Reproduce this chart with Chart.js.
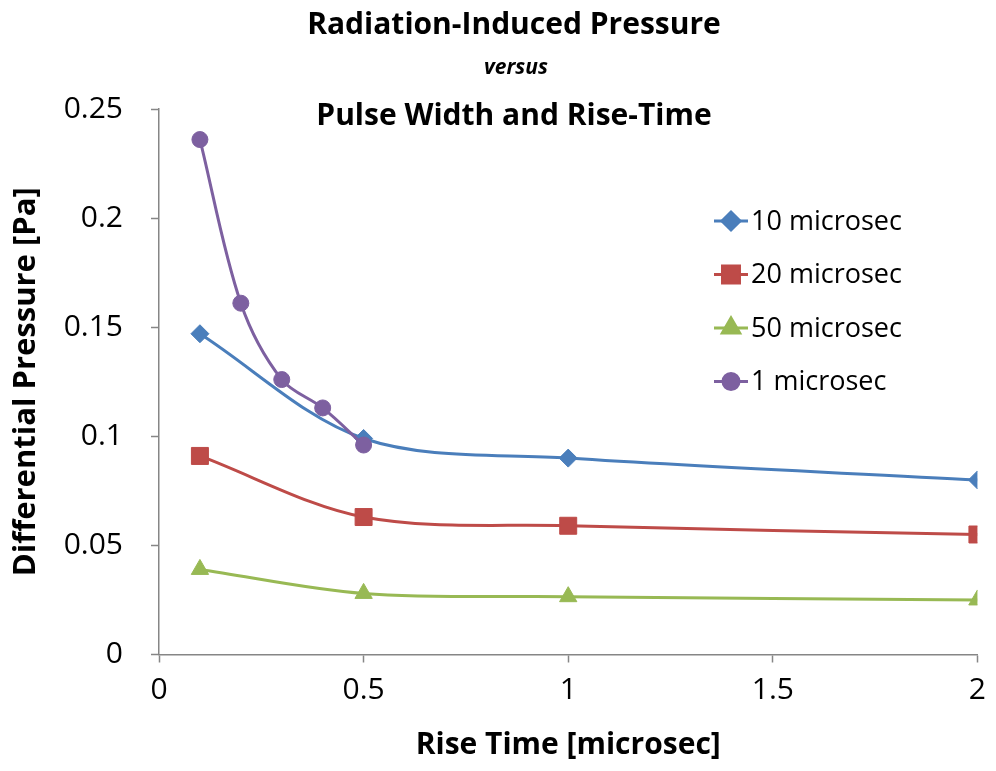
<!DOCTYPE html>
<html>
<head>
<meta charset="utf-8">
<script src="https://cdn.jsdelivr.net/npm/chart.js@4.4.1/dist/chart.umd.min.js"></script>
<style>
  html, body { margin: 0; padding: 0; background: #fff; }
  #wrap { width: 996px; height: 771px; position: relative; }
</style>
</head>
<body>
<div id="wrap"><canvas id="chartPressure" width="996" height="771"></canvas></div>
<script>
// 데이터 (x: rise time, y: differential pressure)
const riseTimes = [0.1, 0.5, 1, 2];
const riseTimesShort = [0.1, 0.2, 0.3, 0.4, 0.5];
const pressure10 = [0.147, 0.099, 0.090, 0.080];
const pressure20 = [0.091, 0.063, 0.059, 0.055];
const pressure50 = [0.039, 0.028, 0.0265, 0.025];
const pressure1 = [0.236, 0.161, 0.126, 0.113, 0.096];
const seriesLabels = ['10 microsec', '20 microsec', '50 microsec', '1 microsec'];
const xTicks = [0, 0.5, 1, 1.5, 2];
const yTicks = [0, 0.05, 0.1, 0.15, 0.2, 0.25];
const titleLines = ['Radiation-Induced Pressure', 'versus', 'Pulse Width and Rise-Time'];

const FONT = '"Open Sans", "DejaVu Sans", sans-serif';
const AXIS_GREY = '#868686';

function toPoints(xs, ys) {
    return xs.map(function(x, i){ return {x: x, y: ys[i]}; });
}

function lineSet(label, xs, ys, color, style, radius, order) {
    return {
        label: label,
        data: toPoints(xs, ys),
        borderColor: color,
        backgroundColor: color,
        borderWidth: 3,
        pointStyle: style,
        pointRadius: radius,
        pointHoverRadius: radius,
        pointBorderWidth: 1,
        pointBorderColor: color,
        pointBackgroundColor: color,
        tension: 0.33,
        order: order
    };
}

const datasets = [
    lineSet(seriesLabels[0], riseTimes, pressure10, '#4A7EBB', 'rectRot', 9, 1),
    lineSet(seriesLabels[1], riseTimes, pressure20, '#BE4B48', 'rect', 12, 2),
    lineSet(seriesLabels[2], riseTimes, pressure50, '#98B954', 'triangle', 10, 3),
    lineSet(seriesLabels[3], riseTimesShort, pressure1, '#7D60A0', 'circle', 8, 0)
];

// 제목 그리기
const titlePlugin = {
    id: 'titleLines',
    afterDraw: function(chart){
        const ctx = chart.ctx;
        ctx.save();
        ctx.fillStyle = '#000';
        ctx.textAlign = 'center';
        ctx.textBaseline = 'middle';
        ctx.font = 'bold 30px ' + FONT;
        ctx.fillText(titleLines[0], 514, 25);
        ctx.font = 'italic bold 21px ' + FONT;
        ctx.fillText(titleLines[1], 516, 68);
        ctx.font = 'bold 30px ' + FONT;
        ctx.fillText(titleLines[2], 514, 116);
        ctx.restore();
    }
};

// 범례 그리기 (선 + 마커)
const legendPlugin = {
    id: 'lineLegend',
    afterDraw: function(chart){
        const ctx = chart.ctx;
        ctx.save();
        chart.data.datasets.forEach(function(ds, i){
            const y = 221 + i * 53.5;
            ctx.strokeStyle = ds.borderColor;
            ctx.lineWidth = 3;
            ctx.beginPath();
            ctx.moveTo(714, y);
            ctx.lineTo(748, y);
            ctx.stroke();
            Chart.helpers.drawPoint(ctx, {
                pointStyle: ds.pointStyle,
                radius: ds.pointRadius,
                rotation: 0,
                borderWidth: 1
            }, 731, y);
            ctx.fillStyle = ds.backgroundColor;
            ctx.fill();
            ctx.fillStyle = '#000';
            ctx.font = '27px ' + FONT;
            ctx.textAlign = 'left';
            ctx.textBaseline = 'middle';
            ctx.fillText(ds.label, 751, y + 1);
        });
        ctx.restore();
    }
};

const ctx1 = document.getElementById('chartPressure').getContext('2d');
const chartPressure = new Chart(ctx1, {
    type: 'line',
    data: { datasets: datasets },
    options: {
        responsive: false,
        animation: false,
        maintainAspectRatio: false,
        layout: { padding: { top: 109, right: 18, left: 0, bottom: 0 } },
        plugins: {
            legend: { display: false },
            title: { display: false },
            tooltip: { enabled: false }
        },
        scales: {
            x: {
                type: 'linear',
                min: 0,
                max: 2,
                afterBuildTicks: function(scale){
                    scale.ticks = xTicks.map(function(v){ return {value: v}; });
                },
                afterFit: function(scale){ scale.height = 116.5; },
                grid: { drawOnChartArea: false, drawTicks: true, tickLength: 8, color: AXIS_GREY, tickWidth: 1.5 },
                border: { color: AXIS_GREY, width: 1.5 },
                ticks: {
                    color: '#000',
                    font: { family: FONT, size: 30 },
                    padding: 10,
                    maxRotation: 0,
                    callback: function(v){ return String(v); }
                },
                title: {
                    display: true,
                    text: 'Rise Time [microsec]',
                    color: '#000',
                    font: { family: FONT, size: 30, weight: 'bold' },
                    padding: { top: 0, bottom: 8 }
                }
            },
            y: {
                type: 'linear',
                min: 0,
                max: 0.25,
                afterBuildTicks: function(scale){
                    scale.ticks = yTicks.map(function(v){ return {value: v}; });
                },
                afterFit: function(scale){ scale.width = 159; },
                grid: { drawOnChartArea: false, drawTicks: true, tickLength: 8, color: AXIS_GREY, tickWidth: 1.5 },
                border: { color: AXIS_GREY, width: 1.5 },
                ticks: {
                    color: '#000',
                    font: { family: FONT, size: 30 },
                    padding: 28,
                    callback: function(v){ return String(Math.round(v * 100) / 100); }
                },
                title: {
                    display: true,
                    text: 'Differential Pressure [Pa]',
                    color: '#000',
                    font: { family: FONT, size: 31, weight: 'bold' },
                    padding: { top: 8, bottom: 0 }
                }
            }
        }
    },
    plugins: [titlePlugin, legendPlugin]
});
</script>
</body>
</html>
